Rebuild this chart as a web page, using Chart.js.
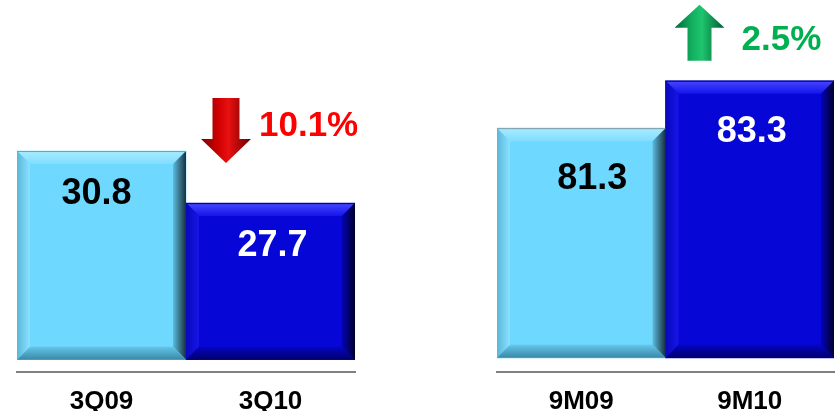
<!DOCTYPE html>
<html>
<head>
<meta charset="utf-8">
<script src="https://cdn.jsdelivr.net/npm/chart.js@4/dist/chart.umd.min.js"></script>
<style>
  body { margin: 0; background: #fff; width: 840px; height: 411px; position: relative; overflow: hidden; }
  .box { position: absolute; top: 0; height: 411px; }
</style>
</head>
<body>
<div class="box" style="left:0;width:380px"><canvas id="quarter"></canvas></div>
<div class="box" style="left:480px;width:360px"><canvas id="nineMonths"></canvas></div>
<script>
// Data
const quarterLabels = ['3Q09', '3Q10'];
const quarterValues = [30.8, 27.7];
const ninemLabels = ['9M09', '9M10'];
const ninemValues = [81.3, 83.3];
const changeLabels = ['10.1%', '2.5%'];
const changeDirs = ['down', 'up'];

const barColors = ['#6ED8FF', '#0606D6'];
const valueColors = ['#000000', '#FFFFFF'];
const FONT = '"Liberation Sans", Arial, sans-serif';

// bevel shades: [outer, inner] for top, left, right, bottom
const bevels = [
  [['#A8ECFF', '#80DDFF'], ['#5AB6D8', '#8AE2FF'], ['#18303E', '#5CBCDE'], ['#3A88A6', '#64C6EA']],
  [['#4646FF', '#1414EA'], ['#0808BC', '#1616E6'], ['#00002A', '#0404B4'], ['#00006C', '#0505C2']]
];

// bevel edges on each bar, like the 3D look of the slide
const bevelPlugin = {
  id: 'bevel',
  afterDatasetsDraw(chart) {
    const ctx = chart.ctx;
    const meta = chart.getDatasetMeta(0);
    meta.data.forEach((bar, i) => {
      const p = bar.getProps(['x', 'y', 'base', 'width'], true);
      const l = p.x - p.width / 2, r = p.x + p.width / 2, t = p.y, b = p.base;
      const d = 13;
      const sh = bevels[i];
      const faces = [
        [[l, t], [r, t], [r - d, t + d], [l + d, t + d], [0, t, 0, t + d], sh[0]],
        [[l, t], [l + d, t + d], [l + d, b - d], [l, b], [l, 0, l + d, 0], sh[1]],
        [[r, t], [r, b], [r - d, b - d], [r - d, t + d], [r, 0, r - d, 0], sh[2]],
        [[l, b], [l + d, b - d], [r - d, b - d], [r, b], [0, b, 0, b - d], sh[3]]
      ];
      ctx.save();
      faces.forEach(f => {
        const g = ctx.createLinearGradient(f[4][0], f[4][1], f[4][2], f[4][3]);
        g.addColorStop(0, f[5][0]);
        g.addColorStop(1, f[5][1]);
        ctx.beginPath();
        ctx.moveTo(f[0][0], f[0][1]);
        for (let k = 1; k < 4; k++) ctx.lineTo(f[k][0], f[k][1]);
        ctx.closePath();
        ctx.fillStyle = g;
        ctx.fill();
      });
      ctx.strokeStyle = i === 0 ? '#7F9AA6' : '#00005A';
      ctx.lineWidth = 1;
      ctx.beginPath();
      ctx.moveTo(l, t + 0.5);
      ctx.lineTo(r, t + 0.5);
      ctx.stroke();
      ctx.restore();
    });
  }
};

// value labels and the change arrow over the second bar
const annotatePlugin = {
  id: 'annotate',
  afterDraw(chart, args, opts) {
    const ctx = chart.ctx;
    const meta = chart.getDatasetMeta(0);
    const values = chart.data.datasets[0].data;
    ctx.save();
    ctx.font = 'bold 36px ' + FONT;
    ctx.textAlign = 'center';
    ctx.textBaseline = 'middle';
    meta.data.forEach((bar, i) => {
      ctx.fillStyle = valueColors[i];
      ctx.fillText(values[i].toFixed(1), bar.x + opts.valueDx[i], bar.y + opts.valueDy);
    });

    const bar = meta.data[1];
    const left = bar.x - bar.width / 2;
    const cx = left + opts.arrowDx;
    const h = opts.arrowH, shaftW = opts.shaftW, headW = 50, headH = opts.headH;
    const bottom = bar.y - opts.arrowGap;
    const top = bottom - h;
    const g = ctx.createLinearGradient(cx - headW / 2, 0, cx + headW / 2, 0);
    if (opts.dir === 'down') {
      g.addColorStop(0, '#7A0000');
      g.addColorStop(0.35, '#D00000');
      g.addColorStop(0.55, '#E81010');
      g.addColorStop(1, '#6A0000');
    } else {
      g.addColorStop(0, '#00663A');
      g.addColorStop(0.35, '#12B060');
      g.addColorStop(0.55, '#1FC46E');
      g.addColorStop(1, '#005A30');
    }
    ctx.beginPath();
    if (opts.dir === 'down') {
      ctx.moveTo(cx - shaftW / 2, top);
      ctx.lineTo(cx + shaftW / 2, top);
      ctx.lineTo(cx + shaftW / 2, bottom - headH);
      ctx.lineTo(cx + headW / 2, bottom - headH);
      ctx.lineTo(cx, bottom);
      ctx.lineTo(cx - headW / 2, bottom - headH);
      ctx.lineTo(cx - shaftW / 2, bottom - headH);
    } else {
      ctx.moveTo(cx - shaftW / 2, bottom);
      ctx.lineTo(cx + shaftW / 2, bottom);
      ctx.lineTo(cx + shaftW / 2, top + headH);
      ctx.lineTo(cx + headW / 2, top + headH);
      ctx.lineTo(cx, top);
      ctx.lineTo(cx - headW / 2, top + headH);
      ctx.lineTo(cx - shaftW / 2, top + headH);
    }
    ctx.closePath();
    ctx.fillStyle = g;
    ctx.fill();

    ctx.font = 'bold 35px ' + FONT;
    ctx.textAlign = 'left';
    ctx.fillStyle = opts.dir === 'down' ? '#FF0000' : '#00B050';
    ctx.fillText(opts.text, cx + opts.textDx, top + opts.textDy);
    ctx.restore();
  }
};

function makeChart(id, labels, values, cfg) {
  return new Chart(document.getElementById(id), {
    type: 'bar',
    data: {
      labels: labels,
      datasets: [{
        data: values,
        base: cfg.base,
        backgroundColor: barColors,
        borderWidth: 0,
        barPercentage: 1,
        categoryPercentage: 1
      }]
    },
    options: {
      responsive: true,
      maintainAspectRatio: false,
      animation: false,
      events: [],
      layout: { padding: { left: 17, right: cfg.padRight, top: 20, bottom: -12 } },
      plugins: {
        legend: { display: false },
        tooltip: { enabled: false },
        annotate: cfg.annotate
      },
      scales: {
        x: {
          grid: { display: false },
          border: { display: true, color: '#808080', width: 2 },
          ticks: { color: '#000', padding: 6, font: { family: FONT, size: 26, weight: 'bold' } }
        },
        y: { display: false, min: cfg.min, max: cfg.max }
      }
    },
    plugins: [bevelPlugin, annotatePlugin]
  });
}

makeChart('quarter', quarterLabels, quarterValues, {
  base: 18.38, min: 17.66, max: 38.6, padRight: 25,
  annotate: { dir: changeDirs[0], text: changeLabels[0], valueDx: [-5, 2], valueDy: 43,
    arrowDx: 40, arrowGap: 40, arrowH: 65, shaftW: 27, headH: 24, textDx: 33, textDy: 28 }
});
makeChart('nineMonths', ninemLabels, ninemValues, {
  base: 71.62, min: 71.03, max: 85.86, padRight: 6,
  annotate: { dir: changeDirs[1], text: changeLabels[1], valueDx: [11, 2], valueDy: 51,
    arrowDx: 34, arrowGap: 20, arrowH: 56, shaftW: 24, headH: 23, textDx: 42, textDy: 36 }
});
</script>
</body>
</html>
